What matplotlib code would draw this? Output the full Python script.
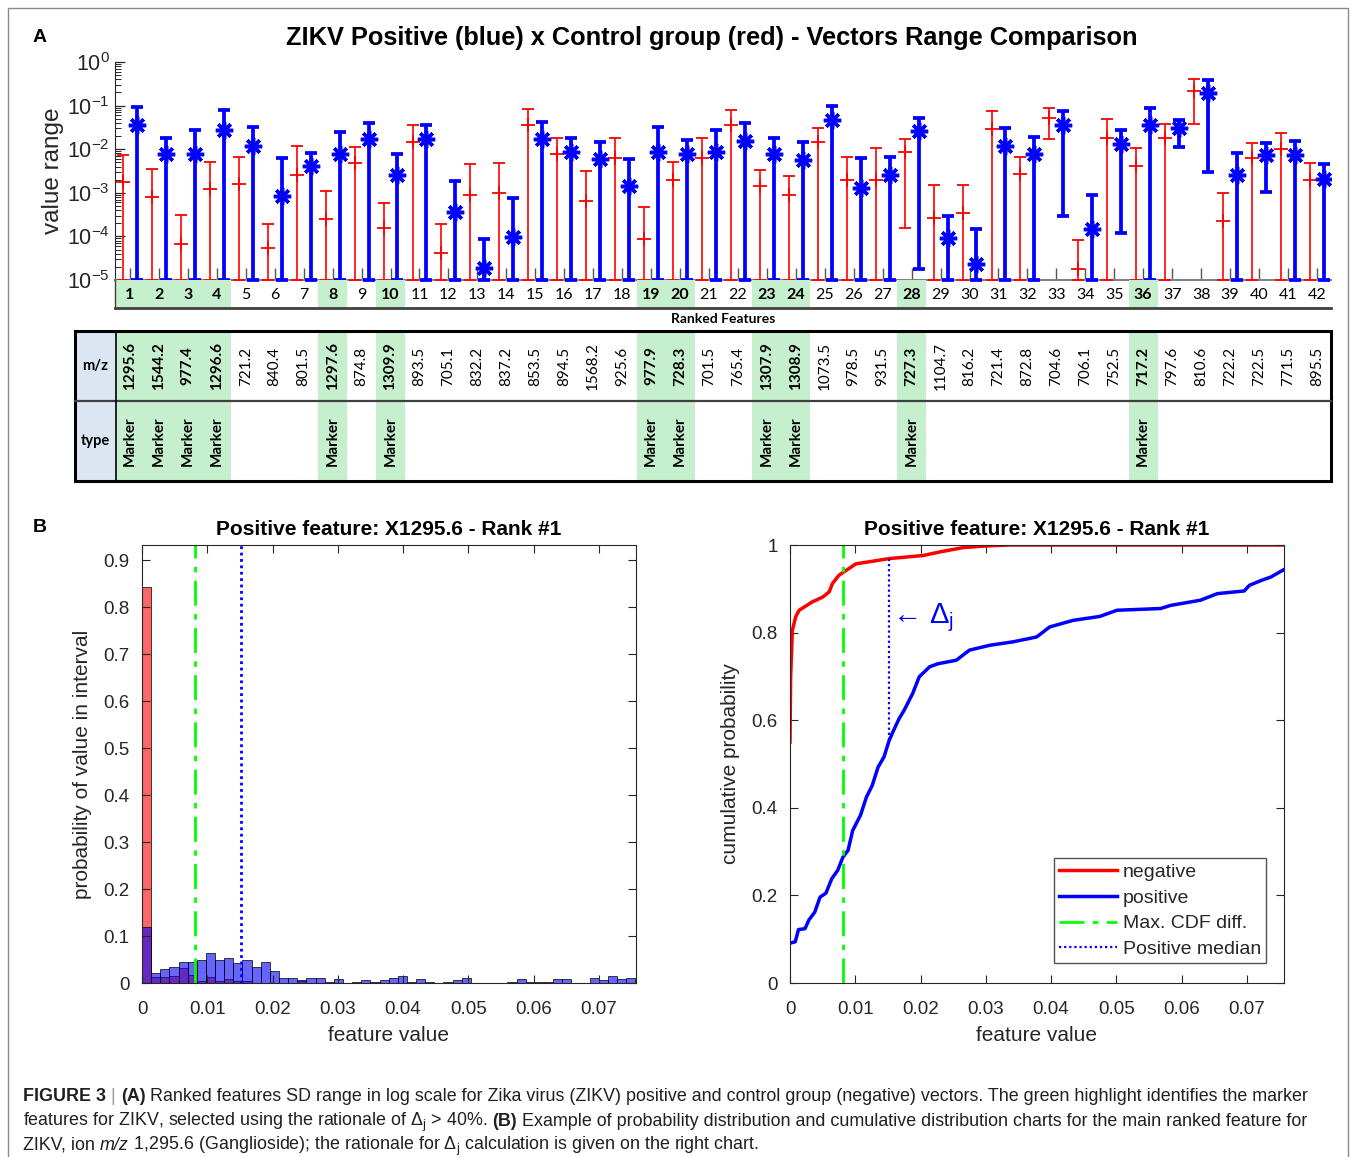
import numpy as np
import matplotlib
matplotlib.use('Agg')
import matplotlib.pyplot as plt
from matplotlib.patches import Rectangle
from matplotlib.lines import Line2D
from matplotlib.ticker import LogLocator
from matplotlib.font_manager import fontManager

plt.rcParams['font.family'] = ['Liberation Sans', 'DejaVu Sans']
plt.rcParams['mathtext.fontset'] = 'custom'
plt.rcParams['mathtext.rm'] = 'Liberation Sans'
plt.rcParams['mathtext.it'] = 'Liberation Sans:italic'
plt.rcParams['mathtext.bf'] = 'Liberation Sans:bold'

# ---------------- data: panel A ----------------
ranks = list(range(1, 43))
markers = [1, 2, 3, 4, 8, 10, 19, 20, 23, 24, 28, 36]
mz = ["1295.6", "1544.2", "977.4", "1296.6", "721.2", "840.4", "801.5", "1297.6", "874.8", "1309.9",
      "893.5", "705.1", "832.2", "837.2", "853.5", "894.5", "1568.2", "925.6", "977.9", "728.3",
      "701.5", "765.4", "1307.9", "1308.9", "1073.5", "978.5", "931.5", "727.3", "1104.7", "816.2",
      "721.4", "872.8", "704.6", "706.1", "752.5", "717.2", "797.6", "810.6", "722.2", "722.5",
      "771.5", "895.5"]

neg_high = [7.4e-3, 3.5e-3, 3.1e-4, 5.2e-3, 6.6e-3, 1.9e-4, 1.2e-2, 1.1e-3, 1.1e-2, 5.9e-4,
            3.5e-2, 1.9e-4, 4.6e-3, 4.9e-3, 8.3e-2, 1.8e-2, 3.1e-3, 1.8e-2, 4.7e-4, 5.0e-3,
            1.8e-2, 8.0e-2, 3.4e-3, 2.4e-3, 3.1e-2, 6.7e-3, 1.05e-2, 1.7e-2, 1.5e-3, 1.5e-3,
            7.4e-2, 6.6e-3, 8.7e-2, 8.1e-5, 4.8e-2, 1.05e-2, 3.7e-2, 4.0e-1, 1.0e-3, 1.38e-2,
            2.3e-2, 4.8e-3]
neg_mid = [1.8e-3, 8.1e-4, 6.8e-5, 1.2e-3, 1.6e-3, 5.4e-5, 2.6e-3, 2.5e-4, 4.9e-3, 1.6e-4,
           1.45e-2, 4.2e-5, 8.7e-4, 9.8e-4, 3.5e-2, 7.8e-3, 6.5e-4, 6.3e-3, 8.9e-5, 2.0e-3,
           6.2e-3, 3.5e-2, 1.4e-3, 9.1e-4, 1.48e-2, 2.0e-3, 2.0e-3, 8.5e-3, 2.6e-4, 3.4e-4,
           2.9e-2, 2.7e-3, 5.2e-2, 1.8e-5, 1.8e-2, 4.2e-3, 1.8e-2, 2.2e-1, 2.2e-4, 6.2e-3,
           1.03e-2, 2.0e-3]
neg_low = [1e-5, 1e-5, 1e-5, 1e-5, 1e-5, 1e-5, 1e-5, 1e-5, 1e-5, 1e-5,
           1e-5, 1e-5, 1e-5, 1e-5, 1e-5, 1e-5, 1e-5, 1e-5, 1e-5, 1e-5,
           1e-5, 1e-5, 1e-5, 1e-5, 1e-5, 1e-5, 1e-5, 1.6e-4, 1e-5, 1e-5,
           1e-5, 1e-5, 1.7e-2, 1e-5, 1e-5, 1e-5, 1e-5, 3.7e-2, 1e-5, 1e-5,
           1e-5, 1e-5]
pos_high = [9.5e-2, 1.8e-2, 2.8e-2, 7.9e-2, 3.2e-2, 6.2e-3, 8.3e-3, 2.5e-2, 4.0e-2, 7.8e-3,
            3.5e-2, 1.9e-3, 8.5e-5, 7.8e-4, 4.3e-2, 1.8e-2, 1.48e-2, 6.0e-3, 3.2e-2, 1.66e-2,
            2.8e-2, 4.0e-2, 1.8e-2, 1.48e-2, 9.7e-2, 6.2e-3, 6.6e-3, 5.2e-2, 3.0e-4, 1.5e-4,
            3.0e-2, 1.95e-2, 7.4e-2, 8.7e-4, 2.7e-2, 8.6e-2, 4.6e-2, 3.8e-1, 8.3e-3, 1.38e-2,
            1.58e-2, 4.6e-3]
pos_mid = [3.5e-2, 7.9e-3, 7.9e-3, 2.7e-2, 1.2e-2, 8.5e-4, 4.1e-3, 7.8e-3, 1.7e-2, 2.5e-3,
           1.7e-2, 3.7e-4, 1.9e-5, 9.8e-5, 1.7e-2, 8.5e-3, 6.0e-3, 1.45e-3, 8.7e-3, 7.6e-3,
           8.8e-3, 1.55e-2, 7.6e-3, 5.8e-3, 4.7e-2, 1.3e-3, 2.6e-3, 2.6e-2, 9.3e-5, 2.3e-5,
           1.2e-2, 7.9e-3, 3.6e-2, 1.5e-4, 1.33e-2, 3.5e-2, 3.0e-2, 1.9e-1, 2.5e-3, 7.4e-3,
           7.2e-3, 2.1e-3]
pos_low = [1e-5, 1e-5, 1e-5, 1e-5, 1e-5, 1e-5, 1e-5, 1e-5, 1e-5, 1e-5,
           1e-5, 1e-5, 1e-5, 1e-5, 1e-5, 1e-5, 1e-5, 1e-5, 1e-5, 1e-5,
           1e-5, 1e-5, 1e-5, 1e-5, 1e-5, 1e-5, 1e-5, 1.8e-5, 1e-5, 1e-5,
           1e-5, 1e-5, 3.0e-4, 1e-5, 1.2e-4, 1e-5, 1.15e-2, 3.0e-3, 1e-5, 1.07e-3,
           1e-5, 1e-5]

# ---------------- data: panel B ----------------
bin_width = 0.0014
hist_neg = [0.843, 0.012, 0.012, 0.015, 0.032, 0.018, 0.004, 0.012, 0.004, 0.008,
            0.004, 0.004, 0.0, 0.0, 0.0, 0.0, 0.0, 0.004, 0.0, 0.0,
            0.0, 0.0, 0.0, 0.0, 0.0, 0.0, 0.0, 0.0, 0.0, 0.0,
            0.0, 0.0, 0.0, 0.0, 0.0, 0.0, 0.0, 0.0, 0.0, 0.0,
            0.0, 0.0, 0.0, 0.0, 0.0, 0.0, 0.0, 0.0, 0.0, 0.0,
            0.0, 0.0, 0.0, 0.0]
hist_pos = [0.120, 0.021, 0.029, 0.033, 0.045, 0.045, 0.048, 0.063, 0.048, 0.053,
            0.042, 0.050, 0.035, 0.045, 0.026, 0.011, 0.011, 0.006, 0.011, 0.011,
            0.003, 0.009, 0.000, 0.003, 0.006, 0.003, 0.006, 0.011, 0.015, 0.003,
            0.009, 0.003, 0.000, 0.003, 0.006, 0.011, 0.000, 0.000, 0.000, 0.000,
            0.003, 0.009, 0.003, 0.003, 0.003, 0.009, 0.009, 0.000, 0.000, 0.011,
            0.006, 0.015, 0.009, 0.011]
max_cdf_diff_x = 0.0081
positive_median_x = 0.0152

neg_cdf_x = [0.0, 0.0001, 0.00036, 0.00087, 0.0014, 0.0034, 0.005, 0.006, 0.0065, 0.0075,
             0.0086, 0.0101, 0.0127, 0.0152, 0.0204, 0.0229, 0.0265, 0.0301, 0.0337, 0.0757]
neg_cdf_y = [0.55, 0.70, 0.805, 0.836, 0.851, 0.870, 0.881, 0.893, 0.912, 0.931,
             0.942, 0.957, 0.963, 0.969, 0.976, 0.984, 0.994, 0.998, 1.0, 1.0]
pos_cdf_x = [0.0, 0.0008, 0.0013, 0.0023, 0.0029, 0.0038, 0.0046, 0.0055, 0.0064, 0.0073,
             0.0081, 0.0089, 0.0096, 0.0108, 0.0117, 0.0126, 0.0135, 0.0144, 0.0152, 0.0161,
             0.0167, 0.0175, 0.0188, 0.0198, 0.0214, 0.0227, 0.0255, 0.0275, 0.0306, 0.0342,
             0.0378, 0.0398, 0.0434, 0.0475, 0.0501, 0.0568, 0.0583, 0.0629, 0.0655, 0.0696,
             0.0704, 0.0722, 0.0737, 0.0757]
pos_cdf_y = [0.091, 0.094, 0.122, 0.124, 0.144, 0.162, 0.196, 0.205, 0.238, 0.257,
             0.287, 0.303, 0.348, 0.383, 0.424, 0.451, 0.493, 0.516, 0.554, 0.584,
             0.603, 0.623, 0.661, 0.699, 0.722, 0.729, 0.737, 0.760, 0.771, 0.779,
             0.790, 0.813, 0.828, 0.837, 0.851, 0.855, 0.862, 0.874, 0.889, 0.895,
             0.908, 0.919, 0.927, 0.944]

# ---------------- figure ----------------
W, H = 1356, 1157
fig = plt.figure(figsize=(W / 100, H / 100), dpi=100)


def rect(x0, y0, x1, y1):
    return [x0 / W, 1 - y1 / H, (x1 - x0) / W, (y1 - y0) / H]


DARK = '#262626'
GREEN = '#c6efce'
HEADER = '#dce6f2'

# outer frame
fig.add_artist(Rectangle((8 / W, -0.01), (1348 - 8) / W, 1.01 - 8 / H, transform=fig.transFigure,
                         fill=False, ec='#8a8a8a', lw=1.0))

# ---------------- panel A ----------------
fig.text(40 / W, 1 - 38 / H, 'A', fontsize=14, weight='bold', ha='center', va='center')
fig.text(712 / W, 1 - 38 / H, 'ZIKV Positive (blue) x Control group (red) - Vectors Range Comparison',
         fontsize=18.3, weight='bold', ha='center', va='center', color='black')

axA = fig.add_axes(rect(115.5, 62, 1331.4, 280))
xr = np.array(ranks, dtype=float)
nm, nl, nh = np.array(neg_mid), np.array(neg_low), np.array(neg_high)
pm, pl, ph = np.array(pos_mid), np.array(pos_low), np.array(pos_high)
ebn = axA.errorbar(xr - 0.24, nm, yerr=[nm - nl, nh - nm], fmt='+', color='red', ms=10, mew=1.3,
                   elinewidth=1.2, capsize=4.6, capthick=1.2, zorder=3)
ebp = axA.errorbar(xr + 0.24, pm, yerr=[pm - pl, ph - pm], fmt='none', ecolor='blue',
                   elinewidth=2.7, capsize=4.6, capthick=2.7, zorder=4)
axA.plot(xr + 0.24, pm, ls='none', marker=(8, 2, 0), ms=12.5, mew=2.5, color='blue', zorder=5)
for c in (ebn, ebp):
    for art in c.get_children():
        art.set_clip_on(False)
axA.set_yscale('log')
axA.set_ylim(1e-5, 1)
axA.set_xlim(0.5, 42.5)
axA.yaxis.set_major_locator(LogLocator(base=10, numticks=10))
axA.yaxis.set_minor_locator(LogLocator(base=10, subs=np.arange(2, 10), numticks=20))
axA.set_xticks(ranks)
axA.tick_params(axis='x', which='major', direction='in', length=9, width=1, color='#555555',
                labelbottom=False)
axA.tick_params(axis='x', which='minor', bottom=False)
axA.tick_params(axis='y', which='major', direction='in', length=7, width=0.9, labelsize=15.5,
                labelcolor=DARK, color=DARK, pad=4)
axA.tick_params(axis='y', which='minor', direction='in', length=4, width=0.7, color=DARK)
for s in ('top', 'right'):
    axA.spines[s].set_visible(False)
axA.spines['left'].set_color(DARK)
axA.spines['bottom'].set_color('#7f7f7f')
axA.spines['bottom'].set_linewidth(1.4)
axA.set_ylabel('value range', fontsize=17.5, color=DARK, labelpad=2)

# rank label row
axL = fig.add_axes(rect(115.5, 280, 1331.4, 308))
axL.set_xlim(0.5, 42.5)
axL.set_ylim(0, 1)
axL.axis('off')
for i in ranks:
    if i in markers:
        axL.add_patch(Rectangle((i - 0.5, 0), 1, 1, color=GREEN, lw=0))
    axL.text(i, 0.45, str(i), ha='center', va='center', fontsize=11.5, family='Lato',
             weight='bold' if i in markers else 'normal', color='black')
axL.plot([0.5, 42.5], [0, 0], color='#404040', lw=2, clip_on=False)
axL.plot([0.5, 0.5], [0, 1], color='#404040', lw=1, clip_on=False)
fig.text(723 / W, 1 - 319 / H, 'Ranked Features', fontsize=10, family='Lato', weight='bold',
         ha='center', va='center')

# table
axT = fig.add_axes(rect(75, 331, 1331.4, 481))
x_left = 0.5 - 40.5 / 28.95
axT.set_xlim(x_left, 42.5)
axT.set_ylim(0, 1)
axT.axis('off')
y_div = 1 - 70 / 150
axT.add_patch(Rectangle((x_left, 0), 0.5 - x_left, 1, color=HEADER, lw=0))
for i in ranks:
    mk = i in markers
    if mk:
        axT.add_patch(Rectangle((i - 0.5, 0), 1, 1, color=GREEN, lw=0))
        axT.text(i, y_div / 2, 'Marker', rotation=90, ha='center', va='center', fontsize=11,
                 family='Lato', weight='bold')
    axT.text(i, (1 + y_div) / 2, mz[i - 1], rotation=90, ha='center', va='center', fontsize=11,
             family='Lato', weight='bold' if mk else 'normal')
axT.text((x_left + 0.5) / 2, (1 + y_div) / 2, 'm/z', ha='center', va='center', fontsize=10.5,
         family='Lato', weight='bold')
axT.text((x_left + 0.5) / 2, y_div / 2, 'type', ha='center', va='center', fontsize=10.5,
         family='Lato', weight='bold')
axT.plot([x_left, 42.5], [y_div, y_div], color='#404040', lw=1.6, clip_on=False)
axT.plot([0.5, 0.5], [0, 1], color='black', lw=1.2, clip_on=False)
axT.add_patch(Rectangle((x_left, 0), 42.5 - x_left, 1, fill=False, ec='black', lw=2.2, clip_on=False))

# ---------------- panel B ----------------
fig.text(40 / W, 1 - 527 / H, 'B', fontsize=14, weight='bold', ha='center', va='center')


def style_box(ax):
    for s in ax.spines.values():
        s.set_color(DARK)
        s.set_linewidth(0.8)
    ax.tick_params(direction='in', top=True, right=True, length=6, width=0.8, color=DARK,
                   labelsize=13.5, labelcolor=DARK)
    ax.tick_params(axis='x', pad=13)
    ax.tick_params(axis='y', pad=9)


title_txt = 'Positive feature: X1295.6 - Rank #1'
green_ls = (0, (9, 3, 2, 3))
blue_ls = (0, (1.0, 1.3))
xt = [0, 0.01, 0.02, 0.03, 0.04, 0.05, 0.06, 0.07]
xt_lab = ['0', '0.01', '0.02', '0.03', '0.04', '0.05', '0.06', '0.07']

axH = fig.add_axes(rect(142, 545, 636, 983))
edges = np.arange(len(hist_pos) + 1) * bin_width
axH.bar(edges[:-1], hist_neg, width=bin_width, align='edge', color=(1, 0, 0, 0.6),
        edgecolor=(0, 0, 0, 0.85), lw=0.6)
axH.bar(edges[:-1], hist_pos, width=bin_width, align='edge', color=(0, 0, 1, 0.6),
        edgecolor=(0, 0, 0, 0.85), lw=0.6)
axH.axvline(max_cdf_diff_x, color='#00ff00', ls=green_ls, lw=2)
axH.axvline(positive_median_x, color='blue', ls=blue_ls, lw=2)
axH.set_xlim(0, 0.0757)
axH.set_ylim(0, 0.932)
axH.set_xticks(xt)
axH.set_xticklabels(xt_lab)
yt = [0, 0.1, 0.2, 0.3, 0.4, 0.5, 0.6, 0.7, 0.8, 0.9]
axH.set_yticks(yt)
axH.set_yticklabels(['0', '0.1', '0.2', '0.3', '0.4', '0.5', '0.6', '0.7', '0.8', '0.9'])
style_box(axH)
axH.set_title(title_txt, fontsize=15, weight='bold', pad=7)
axH.set_xlabel('feature value', fontsize=15, color=DARK, labelpad=6)
axH.set_ylabel('probability of value in interval', fontsize=15, color=DARK, labelpad=8)

axC = fig.add_axes(rect(790, 545, 1284, 983))
axC.plot(neg_cdf_x, neg_cdf_y, color='red', lw=2.5, solid_joinstyle='round')
axC.plot(pos_cdf_x, pos_cdf_y, color='blue', lw=2.5, solid_joinstyle='round')
axC.axvline(max_cdf_diff_x, color='#00ff00', ls=green_ls, lw=2)
y_lo = np.interp(positive_median_x, pos_cdf_x, pos_cdf_y)
y_hi = np.interp(positive_median_x, neg_cdf_x, neg_cdf_y)
axC.plot([positive_median_x, positive_median_x], [y_lo, y_hi], color='blue', ls=blue_ls, lw=1.6)
axC.set_xlim(0, 0.0757)
axC.set_ylim(0, 1)
axC.set_xticks(xt)
axC.set_xticklabels(xt_lab)
axC.set_yticks([0, 0.2, 0.4, 0.6, 0.8, 1.0])
axC.set_yticklabels(['0', '0.2', '0.4', '0.6', '0.8', '1'])
style_box(axC)
axC.set_title(title_txt, fontsize=15, weight='bold', pad=7)
axC.set_xlabel('feature value', fontsize=15, color=DARK, labelpad=6)
axC.set_ylabel('cumulative probability', fontsize=15, color=DARK, labelpad=8)
axC.text(0.01565, 0.835, '\u2190 $\\Delta_\\mathrm{j}$', color='blue', fontsize=21, ha='left', va='center')
leg_handles = [Line2D([], [], color='red', lw=2.5), Line2D([], [], color='blue', lw=2.5),
               Line2D([], [], color='#00ff00', ls=green_ls, lw=2),
               Line2D([], [], color='blue', ls=blue_ls, lw=1.6)]
leg = axC.legend(leg_handles, ['negative', 'positive', 'Max. CDF diff.', 'Positive median'],
                 loc='lower right', bbox_to_anchor=(1 - 18 / 494, 20 / 438), fontsize=14,
                 frameon=True, fancybox=False, framealpha=1, edgecolor='#555555',
                 borderpad=0.25, handlelength=3.0, handletextpad=0.3, labelspacing=0.42,
                 borderaxespad=0)
leg.get_frame().set_linewidth(1.0)
for t in leg.get_texts():
    t.set_color(DARK)

# ---------------- caption ----------------
avail = {f.name for f in fontManager.ttflist}
cap_fam = 'Liberation Sans Narrow' if 'Liberation Sans Narrow' in avail else 'Liberation Sans'
renderer = fig.canvas.get_renderer()
CAP_COL = '#231f20'
DJ = '$\\Delta_\\mathrm{j}$'
cap_lines = [
    [('FIGURE 3', 'bold', 'normal', CAP_COL), (' | ', 'normal', 'normal', '#9a9a9a'),
     ('(A)', 'bold', 'normal', CAP_COL),
     (' Ranked features SD range in log scale for Zika virus (ZIKV) positive and control group '
      '(negative) vectors. The green highlight identifies the marker', 'normal', 'normal', CAP_COL)],
    [('features for ZIKV, selected using the rationale of ' + DJ + ' > 40%. ', 'normal', 'normal', CAP_COL),
     ('(B)', 'bold', 'normal', CAP_COL),
     (' Example of probability distribution and cumulative distribution charts for the main ranked '
      'feature for', 'normal', 'normal', CAP_COL)],
    [('ZIKV, ion ', 'normal', 'normal', CAP_COL), ('m/z', 'normal', 'italic', CAP_COL),
     (' 1,295.6 (Ganglioside); the rationale for ' + DJ + ' calculation is given on the right chart.',
      'normal', 'normal', CAP_COL)],
]


def piece_width(txt, size, weight, style):
    a = fig.text(0, 0, '|' + txt + '|', fontsize=size, family=cap_fam, weight=weight, style=style)
    b = fig.text(0, 0, '||', fontsize=size, family=cap_fam, weight=weight, style=style)
    w = a.get_window_extent(renderer).width - b.get_window_extent(renderer).width
    a.remove()
    b.remove()
    return w


base = 14.0
w1 = sum(piece_width(t, base, wt, st) for t, wt, st, _ in cap_lines[0])
cap_size = base * (1307 - 23) / w1 * 1.004
baselines = [1101, 1126, 1150]
for line, yb in zip(cap_lines, baselines):
    xpos = 23.0
    for t, wt, st, col in line:
        fig.text(xpos / W, 1 - yb / H, t, fontsize=cap_size, family=cap_fam, weight=wt, style=st,
                 color=col, ha='left', va='baseline')
        xpos += piece_width(t, cap_size, wt, st)

fig.savefig('out.png', dpi=100)
